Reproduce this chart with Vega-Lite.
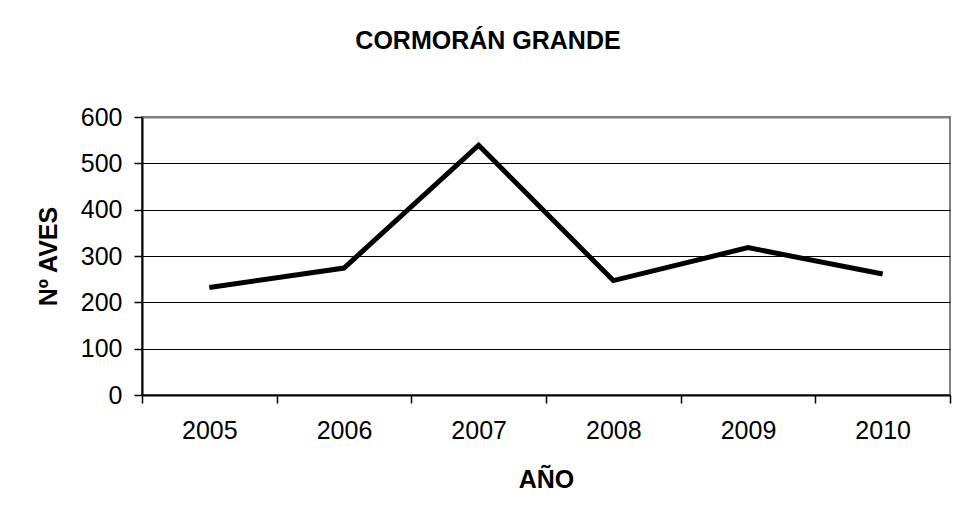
{
  "$schema": "https://vega.github.io/schema/vega-lite/v6.json",
  "width": 808,
  "height": 278,
  "autosize": {"type": "none"},
  "padding": {"left": 142, "top": 117, "right": 7, "bottom": 124},
  "background": "white",
  "config": {
    "font": "Liberation Sans",
    "view": {"stroke": "#808080", "strokeWidth": 2}
  },
  "title": {
    "text": "CORMORÁN GRANDE",
    "fontSize": 25,
    "font": "Liberation Sans",
    "fontWeight": "bold",
    "color": "black",
    "anchor": "middle",
    "dx": -58,
    "offset": 51
  },
  "data": {
    "values": [
      {"year": "2005", "birds": 232},
      {"year": "2006", "birds": 274},
      {"year": "2007", "birds": 539},
      {"year": "2008", "birds": 247},
      {"year": "2009", "birds": 318},
      {"year": "2010", "birds": 261}
    ]
  },
  "mark": {"type": "line", "color": "black", "strokeWidth": 5, "strokeJoin": "miter"},
  "encoding": {
    "x": {
      "field": "year",
      "type": "ordinal",
      "scale": {"type": "band", "paddingInner": 0, "paddingOuter": 0},
      "axis": {
        "title": "AÑO",
        "titleFontSize": 25,
        "titleFontWeight": "bold",
        "titleColor": "black",
        "titlePadding": 24,
        "labelAngle": 0,
        "labelFontSize": 25,
        "labelColor": "black",
        "labelPadding": 15,
        "tickBand": "extent",
        "tickSize": 8,
        "tickColor": "black",
        "tickWidth": 1.5,
        "domainColor": "black",
        "domainWidth": 2,
        "grid": false
      }
    },
    "y": {
      "field": "birds",
      "type": "quantitative",
      "scale": {"domain": [0, 600], "nice": false},
      "axis": {
        "title": "Nº AVES",
        "titleFontSize": 25,
        "titleFontWeight": "bold",
        "titleColor": "black",
        "titlePadding": 19,
        "values": [0, 100, 200, 300, 400, 500, 600],
        "labelFontSize": 25,
        "labelColor": "black",
        "labelPadding": 12,
        "tickSize": 8,
        "tickColor": "black",
        "tickWidth": 1.5,
        "domainColor": "black",
        "domainWidth": 2,
        "grid": true,
        "gridColor": {"condition": {"test": "datum.value == 600", "value": "#808080"}, "value": "black"},
        "gridWidth": {"condition": {"test": "datum.value == 600", "value": 2}, "value": 1},
        "gridOpacity": 1
      }
    }
  }
}
